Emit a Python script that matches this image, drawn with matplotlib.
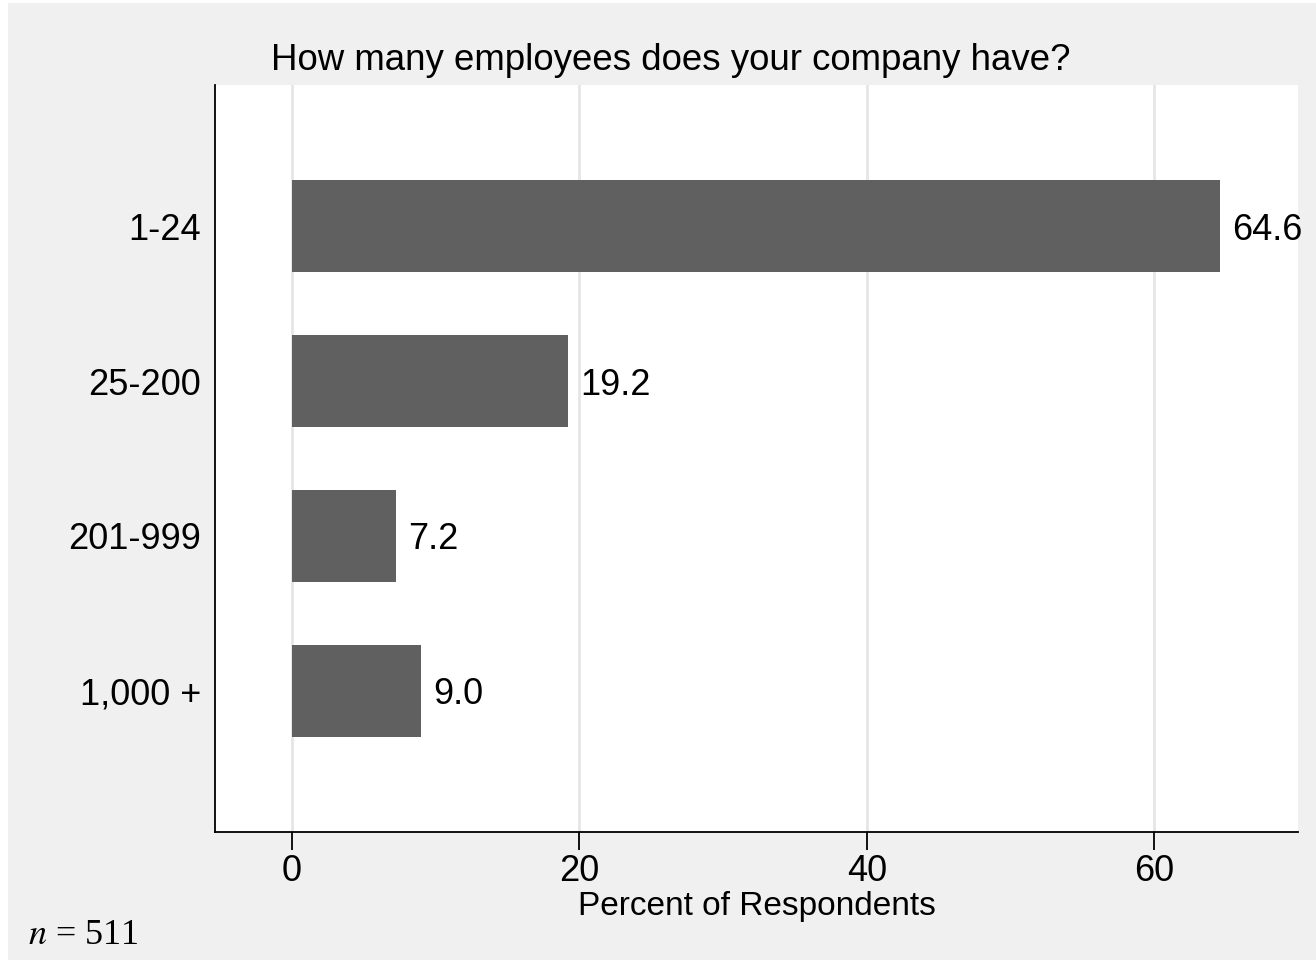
import matplotlib
matplotlib.use("Agg")
import matplotlib.pyplot as plt
from matplotlib.patches import Rectangle

# === DATA ===
categories = ["1-24", "25-200", "201-999", "1,000 +"]
percents = [64.6, 19.2, 7.2, 9.0]
x_ticks = [0, 20, 40, 60]

plt.rcParams["font.family"] = ["Liberation Sans", "DejaVu Sans"]
plt.rcParams["mathtext.fontset"] = "stix"

FS = 26

fig = plt.figure(figsize=(13.16, 9.6), dpi=100, facecolor="white")
# gray backdrop with thin white border at left/top
fig.patches.append(Rectangle((8 / 1316, 0), 1 - 8 / 1316, 1 - 3 / 960,
                             transform=fig.transFigure, facecolor="#f0f0f0",
                             edgecolor="none", zorder=-5))

ax = fig.add_axes([215 / 1316, 1 - 832 / 960, (1298 - 215) / 1316, (832 - 85) / 960])
ax.set_facecolor("white")

ypos = list(range(len(categories)))
ax.barh(ypos, percents, height=0.594, color="#606060", zorder=3)
for y, v in zip(ypos, percents):
    ax.text(v + 0.85, y, f"{v:.1f}", va="center_baseline", ha="left", fontsize=FS, zorder=4)

ax.set_xlim(-5.36, 70.0)
ax.set_ylim(len(categories) - 1 + 0.91, -0.91)
ax.set_yticks(ypos)
ax.set_yticklabels(categories, fontsize=FS)
ax.set_xticks(x_ticks)
ax.set_xticklabels([str(t) for t in x_ticks], fontsize=FS)
ax.tick_params(axis="y", length=0, pad=10)
ax.tick_params(axis="x", length=13, width=1.3, pad=3, direction="out")

ax.grid(axis="x", color="#e6e6e6", linewidth=2, zorder=1)
ax.set_axisbelow(True)
for s in ["top", "right"]:
    ax.spines[s].set_visible(False)
for s in ["left", "bottom"]:
    ax.spines[s].set_linewidth(1.3)
    ax.spines[s].set_color("black")

ax.set_xlabel("Percent of Respondents", fontsize=24, labelpad=1)
fig.text(0.5095, 1 - 61 / 960, "How many employees does your company have?",
         ha="center", va="center", fontsize=26.4)
fig.text(28 / 1316, 1 - 936 / 960, "$n$ = 511", ha="left", va="center",
         fontsize=26, family="Liberation Serif")

fig.savefig("out.png", dpi=100, facecolor=fig.get_facecolor())
